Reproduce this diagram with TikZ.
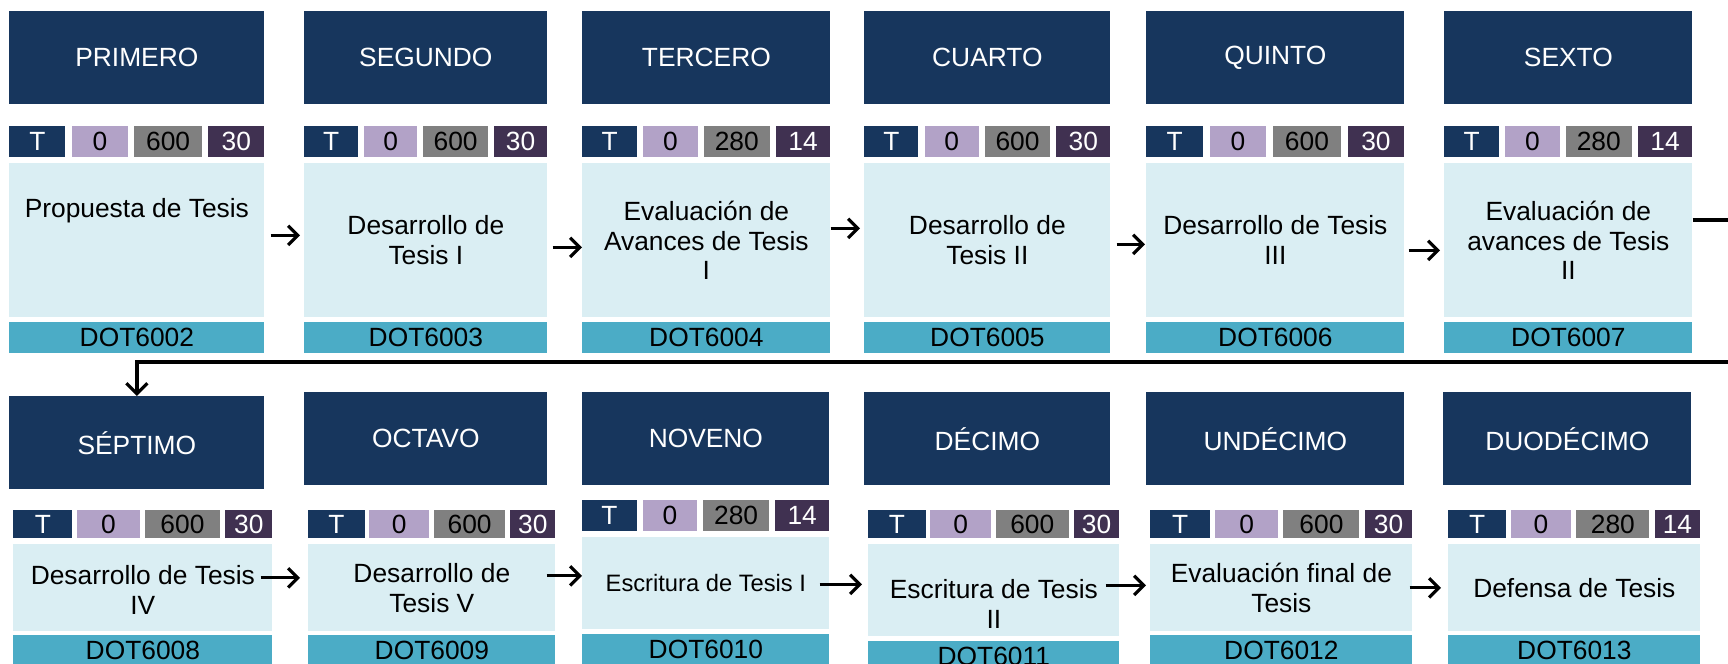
\documentclass[tikz,border=0pt]{standalone}
\usepackage{fontspec}
\setmainfont{Liberation Sans}
\usepackage{tikz}
\usetikzlibrary{arrows.meta,calc,positioning}

\definecolor{semnavy}{HTML}{17365D}
\definecolor{taglilac}{HTML}{B2A2C7}
\definecolor{taggray}{HTML}{808080}
\definecolor{tagplum}{HTML}{403151}
\definecolor{bodypale}{HTML}{DAEEF3}
\definecolor{codeteal}{HTML}{4BACC6}

\tikzset{
  >=stealth,
  semfont/.style={font=\fontsize{15}{17}\selectfont},
  semhead/.style={semfont, fill=semnavy, text=white, inner sep=0pt, minimum height=1.86cm},
  tagtype/.style={semfont, fill=semnavy, text=white, inner sep=0pt},
  tagzero/.style={semfont, fill=taglilac, text=black, inner sep=0pt},
  taghours/.style={semfont, fill=taggray, text=black, inner sep=0pt},
  tagcredits/.style={semfont, fill=tagplum, text=white, inner sep=0pt},
  bodybox/.style={fill=bodypale, inner sep=0pt},
  bodytext/.style={semfont, align=center, inner sep=0pt},
  codebar/.style={semfont, fill=codeteal, inner sep=0pt, minimum height=0.62cm},
  flow/.style={-{Straight Barb[length=5.5pt,width=11pt,line width=1.8pt]}, line width=1.6pt},
  link/.style={-{Straight Barb[length=6pt,width=12pt,line width=1.8pt]}, line width=1.9pt}
}

\begin{document}
\begin{tikzpicture}[x=0.02cm, y=-0.02cm]
	% frame of the page, in pixels of the original
	\useasboundingbox (0,0) rectangle (1728,663);
	\clip (0,0) rectangle (1728,663);

	% one column per semester
	\foreach \col/\hx/\hr/\hy/\bx/\br/\ty/\gh/\bt/\bb/\ct/\tp/\ts/\sem/\txt/\hrs/\crd/\cod in {
		1/9/264/11/9/264/126/31/163/317/322/0/-30/PRIMERO/Propuesta de Tesis/600/30/DOT6002,
		2/304/547/11/304/547/126/31/163/317/322/0/0/SEGUNDO/Desarrollo de\\Tesis I/600/30/DOT6003,
		3/582/830/11/582/830/126/31/163/317/322/0/0/TERCERO/Evaluación de\\Avances de Tesis\\I/280/14/DOT6004,
		4/864/1110/11/864/1110/126/31/163/317/322/0/0/CUARTO/Desarrollo de\\Tesis II/600/30/DOT6005,
		5/1146/1404/11/1146/1404/126/31/163/317/322/0/0/QUINTO/Desarrollo de Tesis\\III/600/30/DOT6006,
		6/1444/1692/11/1444/1692/126/31/163/317/322/0/0/SEXTO/Evaluación de\\avances de Tesis\\II/280/14/DOT6007,
		7/9/264/396/13/272/510/28/544/631/635/1/2/SÉPTIMO/Desarrollo de Tesis\\IV/600/30/DOT6008,
		8/304/547/392/308/555/510/28/544/631/635/1/0/OCTAVO/Desarrollo de\\Tesis V/600/30/DOT6009,
		9/582/829/392/582/829/500/31/537/629/634/0/0/NOVENO/{\fontsize{13.5}{15}\selectfont Escritura de Tesis I}/280/14/DOT6010,
		10/864/1110/392/868/1119/510/28/544/636/641/1/14/DÉCIMO/Escritura de Tesis\\II/600/30/DOT6011,
		11/1146/1404/392/1150/1412/510/28/544/631/635/1/0/UNDÉCIMO/Evaluación final de\\Tesis/600/30/DOT6012,
		12/1443/1691/392/1448/1700/510/28/544/631/635/1/0/DUODÉCIMO/Defensa de Tesis/280/14/DOT6013}{
		\pgfmathsetmacro{\hw}{(\hr-\hx)*0.02}
		\pgfmathsetmacro{\bw}{(\br-\bx)*0.02}
		\pgfmathsetmacro{\bh}{(\bb-\bt)*0.02}
		\pgfmathsetmacro{\gy}{\gh*0.02}

		% semester header
		\node[semhead, minimum width=\hw cm, anchor=north west] (h\col) at (\hx,\hy) {\sem};

		% tag row
		\ifnum\tp=0
			\def\cuts{0/.22/tagtype/T,.245/.465/tagzero/0,.49/.755/taghours/\hrs,.78/1/tagcredits/\crd}
		\else
			\def\cuts{0/.228/tagtype/T,.247/.488/tagzero/0,.508/.798/taghours/\hrs,.818/1/tagcredits/\crd}
		\fi
		\foreach \cutl/\cutr/\look/\val [count=\k] in \cuts {
			\pgfmathsetmacro{\gx}{\bx+\cutl*(\br-\bx)}
			\pgfmathsetmacro{\gw}{(\cutr-\cutl)*\bw}
			\node[\look, minimum width=\gw cm, minimum height=\gy cm, anchor=north west] (g\col-\k) at (\gx,\ty) {\val};
		}

		% course box and code
		\node[bodybox, minimum width=\bw cm, minimum height=\bh cm, anchor=north west] (b\col) at (\bx,\bt) {};
		\node[bodytext] (t\col) at ($(b\col.center)+(0,\ts)$) {\txt};
		\node[codebar, minimum width=\bw cm, anchor=north west] (c\col) at (\bx,\ct) {\cod};
	}

	% arrows between courses
	\foreach \src/\dst/\dy/\sx/\ex in {1/2/-5/6/-4, 2/3/7/5/0, 3/4/-12/0/-4, 4/5/4/6/-1, 5/6/10/4/-4,
		7/8/-10/-12/-8, 8/9/-12/-9/0, 9/10/1/-10/-6, 10/11/-5/-14/-4, 11/12/0/-3/-7}
		\draw[flow] ($(b\src.east)+(\sx,\dy)$) -- ($(b\src.east -| b\dst.west)+(\ex,\dy)$);

	% link from the first row to the second
	\coordinate (bendA) at (1745,220);
	\coordinate (bendB) at (1745,362);
	\draw[link] (b6.east |- bendA) -- (bendA) -- (bendB) -- (bendB -| h7.north) -- (h7.north);
\end{tikzpicture}
\end{document}
